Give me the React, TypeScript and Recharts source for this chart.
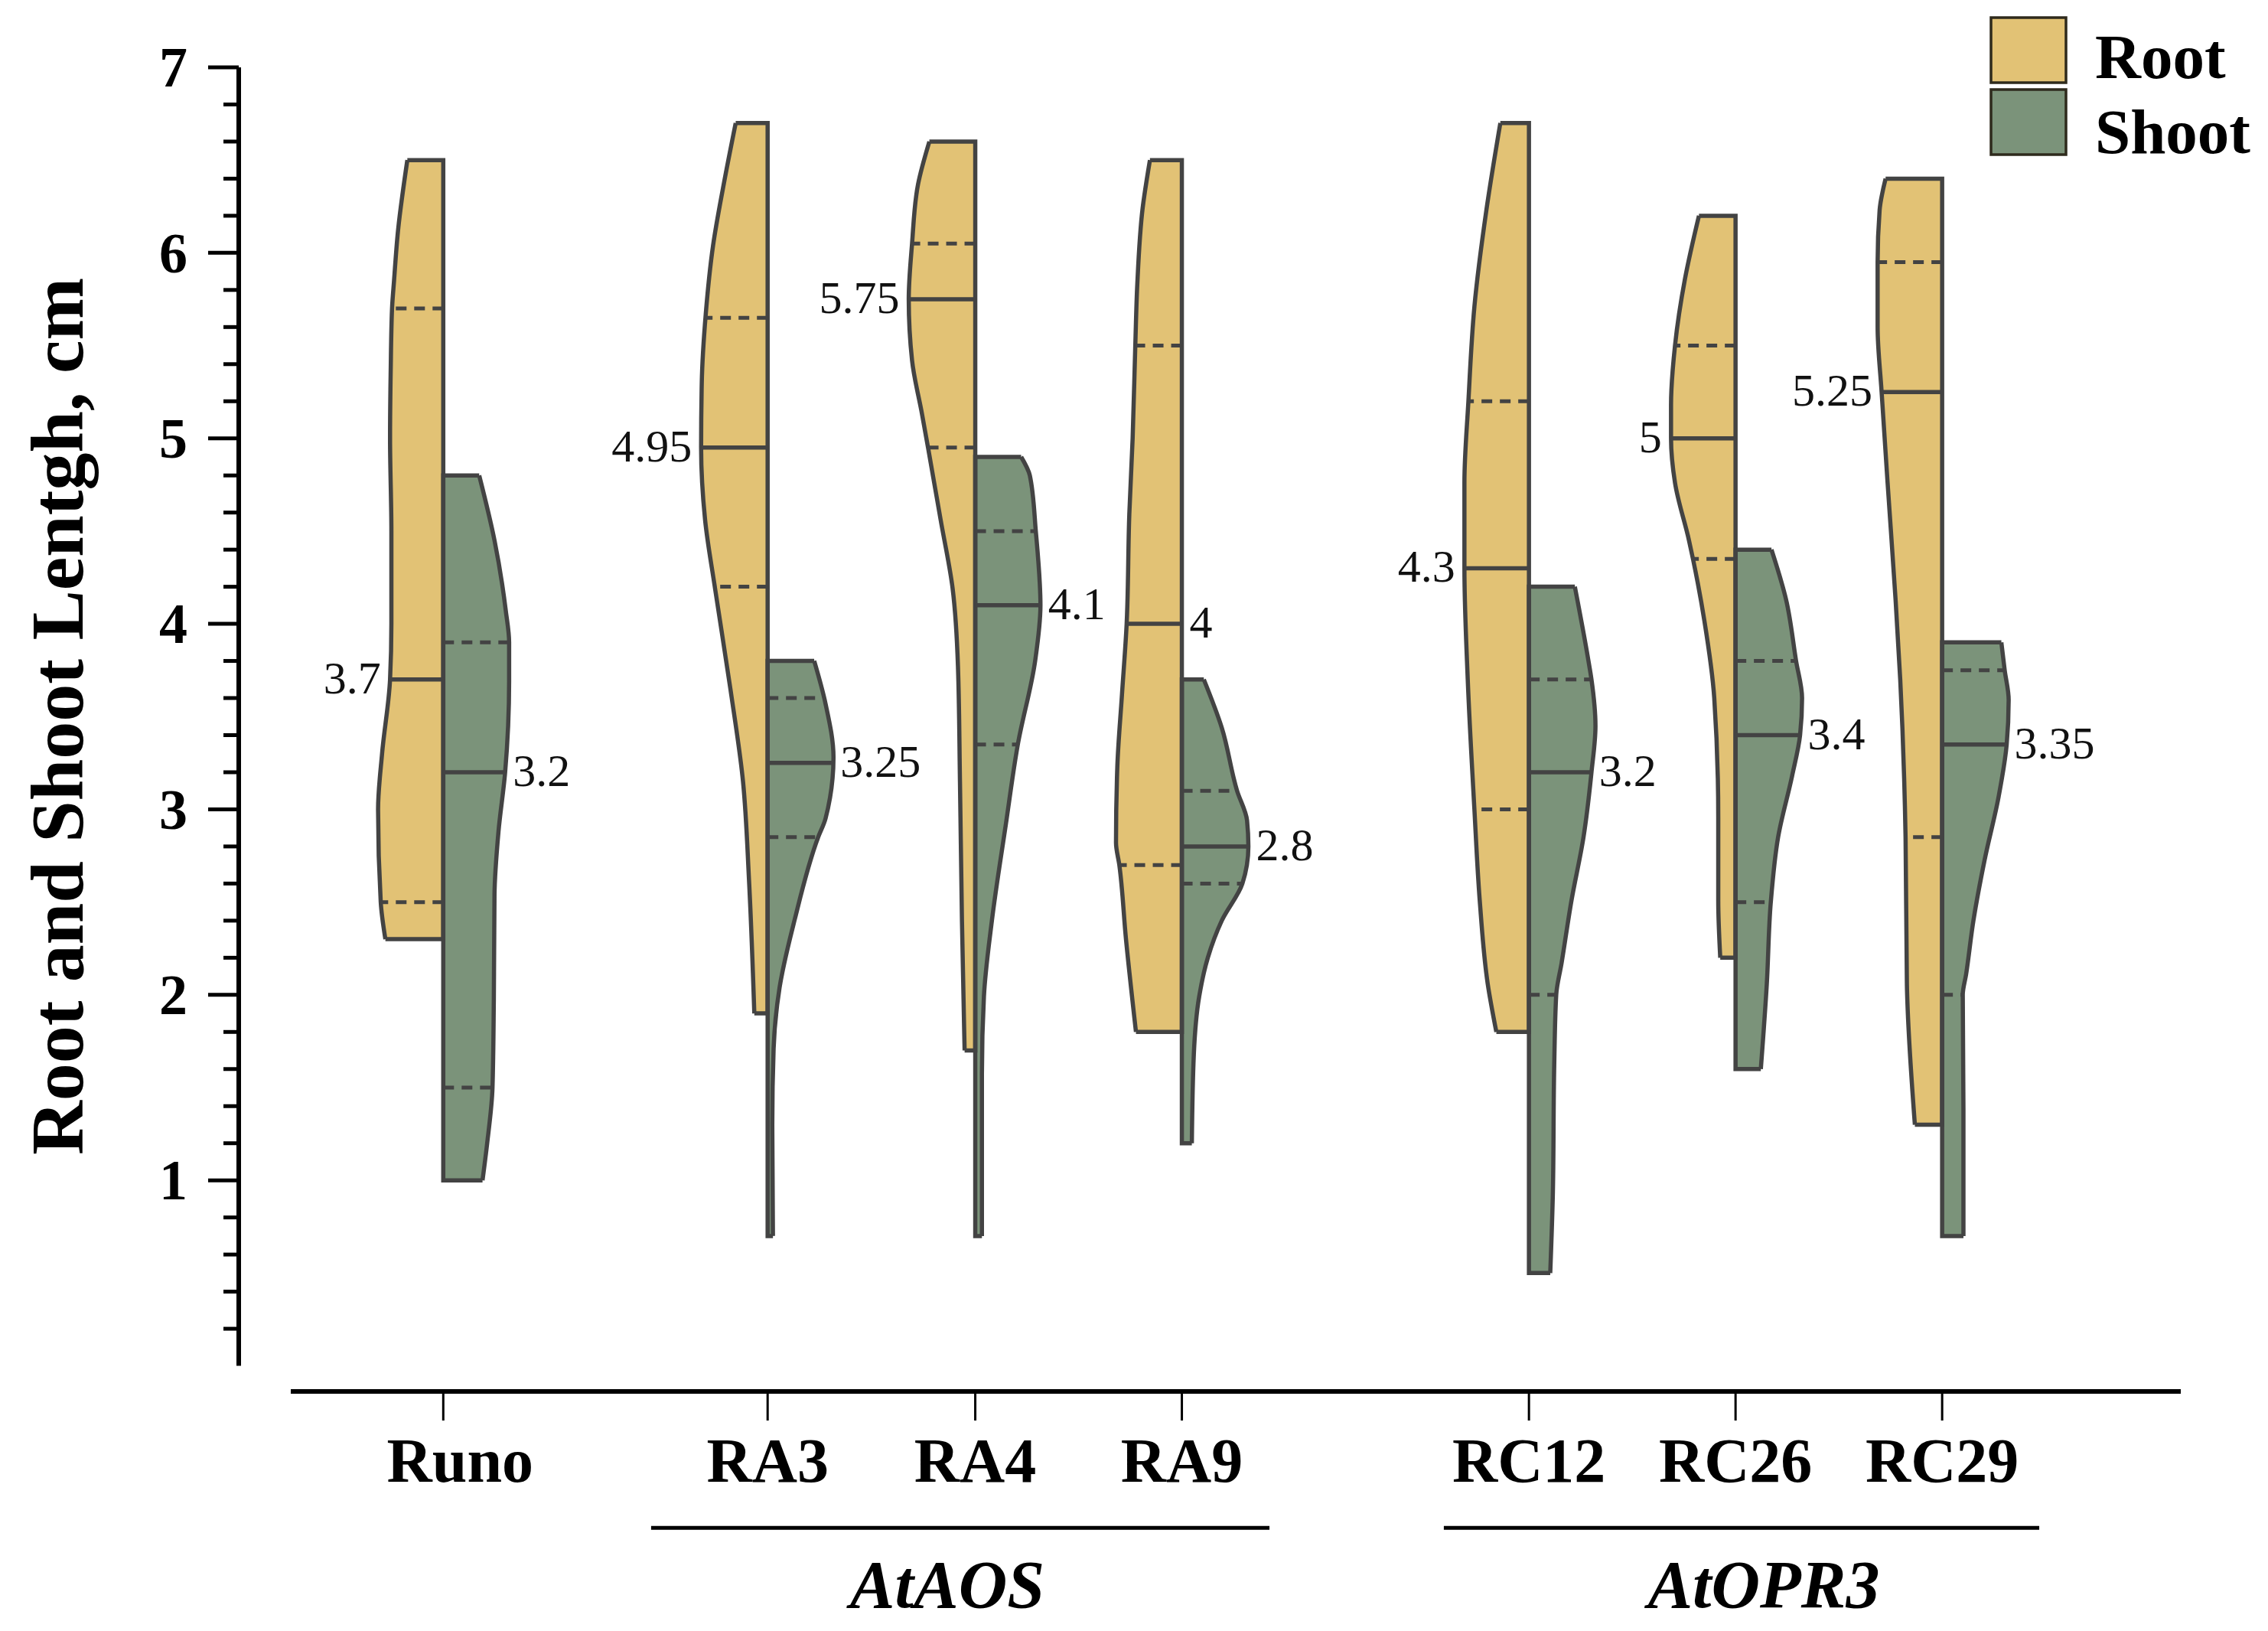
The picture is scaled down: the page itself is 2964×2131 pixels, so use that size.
import React from 'react';
import { ComposedChart, Area, Line, XAxis, YAxis, ReferenceLine, Legend, LabelList } from 'recharts';

// ---------------- data ----------------
const categories = ['Runo', 'RA3', 'RA4', 'RA9', 'RC12', 'RC26', 'RC29'];
const seriesNames = ['Root', 'Shoot'];

const rootMedian = [3.7, 4.95, 5.75, 4, 4.3, 5, 5.25];
const shootMedian = [3.2, 3.25, 4.1, 2.8, 3.2, 3.4, 3.35];
const rootQ1 = [2.5, 4.2, 4.95, 2.7, 3.0, 4.35, 2.85];
const rootQ3 = [5.7, 5.65, 6.05, 5.5, 5.2, 5.5, 5.95];
const shootQ1 = [1.5, 2.85, 3.35, 2.6, 2.0, 2.5, 2.0];
const shootQ3 = [3.9, 3.6, 4.5, 3.1, 3.7, 3.8, 3.75];

// density profiles: [length (cm), relative density], from max length down to min length
const rootDensity: number[][][] = [
  [[6.5, 0.54], [6.12, 0.68], [5.85, 0.74], [5.7, 0.77], [5.37, 0.79], [5.0, 0.8], [4.5, 0.78], [4.0, 0.78], [3.7, 0.8], [3.3, 0.92], [3.0, 0.98], [2.5, 0.94], [2.3, 0.87]],
  [[6.7, 0.48], [6.37, 0.66], [6.04, 0.82], [5.67, 0.93], [5.3, 0.99], [4.95, 1.0], [4.56, 0.94], [4.19, 0.79], [3.65, 0.56], [3.15, 0.37], [2.62, 0.28], [1.9, 0.2]],
  [[6.6, 0.69], [6.37, 0.86], [6.05, 0.95], [5.75, 1.0], [5.42, 0.95], [5.13, 0.8], [4.95, 0.71], [4.56, 0.52], [4.19, 0.34], [3.77, 0.26], [3.15, 0.23], [2.4, 0.2], [1.7, 0.16]],
  [[6.5, 0.48], [6.24, 0.59], [5.83, 0.67], [5.5, 0.7], [5.0, 0.74], [4.59, 0.79], [4.0, 0.83], [3.62, 0.9], [3.23, 0.97], [2.82, 0.99], [2.7, 0.94], [2.3, 0.84], [1.8, 0.69]],
  [[6.7, 0.43], [6.23, 0.64], [5.71, 0.82], [5.2, 0.91], [4.76, 0.97], [4.3, 0.97], [3.7, 0.92], [3.0, 0.82], [2.51, 0.74], [2.06, 0.62], [1.8, 0.49]],
  [[6.2, 0.55], [5.86, 0.76], [5.5, 0.91], [5.18, 0.97], [5.0, 0.97], [4.76, 0.91], [4.45, 0.7], [4.35, 0.64], [4.02, 0.47], [3.6, 0.32], [2.96, 0.26], [2.51, 0.26], [2.2, 0.23]],
  [[6.4, 0.85], [6.23, 0.94], [5.95, 0.97], [5.6, 0.97], [5.25, 0.91], [4.76, 0.82], [4.13, 0.7], [3.7, 0.63], [2.85, 0.55], [2.06, 0.53], [1.3, 0.41]],
];
const shootDensity: number[][][] = [
  [[4.8, 0.54], [4.45, 0.77], [4.07, 0.94], [3.9, 0.99], [3.69, 0.99], [3.2, 0.93], [2.88, 0.83], [2.54, 0.77], [1.97, 0.76], [1.5, 0.74], [1.2, 0.66], [1.0, 0.59]],
  [[3.8, 0.7], [3.57, 0.87], [3.28, 0.99], [2.95, 0.87], [2.85, 0.76], [2.41, 0.41], [2.04, 0.18], [1.71, 0.09], [1.3, 0.07], [0.7, 0.08]],
  [[4.9, 0.69], [4.8, 0.82], [4.5, 0.91], [4.1, 0.98], [3.8, 0.9], [3.35, 0.64], [2.92, 0.46], [2.4, 0.25], [1.99, 0.13], [1.57, 0.1], [0.7, 0.1]],
  [[3.7, 0.33], [3.44, 0.6], [3.1, 0.83], [2.94, 0.98], [2.8, 1.0], [2.6, 0.91], [2.4, 0.6], [2.2, 0.39], [1.99, 0.26], [1.68, 0.18], [1.2, 0.15]],
  [[4.2, 0.69], [3.81, 0.89], [3.7, 0.94], [3.45, 1.0], [3.2, 0.94], [2.85, 0.82], [2.51, 0.64], [2.17, 0.49], [2.0, 0.41], [1.62, 0.38], [0.94, 0.36], [0.5, 0.32]],
  [[4.4, 0.54], [4.13, 0.76], [3.8, 0.91], [3.6, 1.0], [3.4, 0.97], [3.18, 0.85], [2.85, 0.64], [2.5, 0.53], [2.06, 0.47], [1.6, 0.38]],
  [[3.9, 0.89], [3.75, 0.94], [3.59, 1.0], [3.35, 0.97], [3.07, 0.85], [2.73, 0.64], [2.4, 0.47], [2.11, 0.36], [2.0, 0.31], [1.39, 0.32], [0.94, 0.32], [0.7, 0.32]],
];

const groupNames = ['AtAOS', 'AtOPR3'];
const yTickValues = Array.from({ length: 35 }, (_, i) => Math.round((i + 1) * 2) / 10);
const yTitle = 'Root and Shoot Lentgh, cm';

// ---------------- layout / style ----------------
const W = 2964;
const H = 2131;
const PLOT_LEFT = 312;
const MARGIN_TOP = 88;
const MARGIN_RIGHT = 114;
const XAXIS_H = 313;
const X_DOMAIN: [number, number] = [0, 9.4];
const Y_DOMAIN: [number, number] = [-0.138, 7];
const slotX = [0.99, 2.56, 3.565, 4.565, 6.245, 7.245, 8.245];
const HALF_W = 0.322;
const X_AXIS_START = 0.252;
const groupSpan = [[1.996, 4.989], [5.833, 8.715]];
const groupLabelDx = [-17, 29];
const GROUP_LINE_Y = -0.873;
// root median labels drawn on the right of the centre line (where no shoot half is beside them)
const rootLabelOnRight = [false, false, false, true, false, false, false];

const SERIF = "'Liberation Serif', 'Times New Roman', serif";
const COLORS = ['#E2C275', '#7B937A'];
const OUTLINE = '#434343';

const interp = (prof: number[][], v: number) => {
  for (let i = 0; i < prof.length - 1; i++) {
    const [l0, d0] = prof[i];
    const [l1, d1] = prof[i + 1];
    if (v <= l0 && v >= l1) {
      const t = (l0 - v) / (l0 - l1 || 1);
      return d0 + (d1 - d0) * t;
    }
  }
  return prof[prof.length - 1][1];
};

const medianLabel = (text: string, side: number, onRightOfCentre: boolean) => (props: any) => {
  const wantIndex = onRightOfCentre ? 0 : 1;
  if (props.index !== wantIndex) return null;
  const x = props.x ?? props.viewBox?.x;
  const y = props.y ?? props.viewBox?.y;
  if (x == null || y == null) return null;
  const right = side === 1 || onRightOfCentre;
  return (
    <text
      x={right ? x + 10 : x - 12}
      y={y}
      dy="0.3em"
      textAnchor={right ? 'start' : 'end'}
      fontFamily={SERIF}
      fontSize={60}
      fill="#111"
    >
      {text}
    </text>
  );
};

function buildHalf(ci: number, side: number) {
  const c = slotX[ci];
  const prof = side === 0 ? rootDensity[ci] : shootDensity[ci];
  const sgn = side === 0 ? -1 : 1;
  const outer = (d: number) => c + sgn * d * HALF_W;
  const area = prof.map(([len, d]) => ({ len, range: side === 0 ? [outer(d), c] : [c, outer(d)] }));
  const edge = prof.map(([len, d]) => ({ len, x: outer(d) }));
  const top = prof[0];
  const bot = prof[prof.length - 1];
  const closure = [
    { len: top[0], x: outer(top[1]) },
    { len: top[0], x: c },
    { len: bot[0], x: c },
    { len: bot[0], x: outer(bot[1]) },
  ];
  const seg = (v: number) => [
    { len: v, x: c },
    { len: v, x: outer(interp(prof, v)) },
  ];
  const med = side === 0 ? rootMedian[ci] : shootMedian[ci];
  const q1 = side === 0 ? rootQ1[ci] : shootQ1[ci];
  const q3 = side === 0 ? rootQ3[ci] : shootQ3[ci];
  const key = `${side}-${ci}`;
  const common = { isAnimationActive: false, dot: false, activeDot: false, legendType: 'none' as const };
  const onRight = side === 0 && rootLabelOnRight[ci];
  return [
    <Area
      key={`a-${key}`}
      data={area}
      dataKey="range"
      type="monotone"
      fill={COLORS[side]}
      fillOpacity={1}
      stroke="none"
      {...common}
    />,
    <Line key={`e-${key}`} data={edge} dataKey="x" type="monotone" stroke={OUTLINE} strokeWidth={5.5} {...common} />,
    <Line key={`c-${key}`} data={closure} dataKey="x" type="linear" stroke={OUTLINE} strokeWidth={5.5} strokeLinejoin="miter" {...common} />,
    <Line key={`q1-${key}`} data={seg(q1)} dataKey="x" type="linear" stroke={OUTLINE} strokeWidth={5} strokeDasharray="14 10" {...common} />,
    <Line key={`q3-${key}`} data={seg(q3)} dataKey="x" type="linear" stroke={OUTLINE} strokeWidth={5} strokeDasharray="14 10" {...common} />,
    <Line key={`m-${key}`} data={seg(med)} dataKey="x" type="linear" stroke={OUTLINE} strokeWidth={5.5} {...common}>
      <LabelList dataKey="x" content={medianLabel(String(med), side, onRight)} />
    </Line>,
  ];
}

const YTick = (props: any) => {
  const { x, y, payload } = props;
  const v = payload.value;
  const major = Math.abs(v - Math.round(v)) < 1e-6;
  return (
    <g>
      <line x1={x - (major ? 40 : 20)} x2={x} y1={y} y2={y} stroke="#000" strokeWidth={5} />
      {major && (
        <text x={x - 67} y={y} dy="0.34em" textAnchor="end" fontFamily={SERIF} fontWeight="bold" fontSize={74} fill="#000">
          {Math.round(v)}
        </text>
      )}
    </g>
  );
};

const XTick = (props: any) => {
  const { x, y, payload } = props;
  const idx = slotX.findIndex((s) => Math.abs(s - payload.value) < 1e-6);
  const name = categories[idx] ?? '';
  return (
    <text x={x + (idx === 0 ? 22 : 0)} y={y} dy={80} textAnchor="middle" fontFamily={SERIF} fontWeight="bold" fontSize={82} fill="#000">
      {name}
    </text>
  );
};

const LegendBox = () => (
  <svg width={374} height={210} style={{ display: 'block' }}>
    {seriesNames.map((n, i) => (
      <g key={n}>
        <rect x={12} y={13 + i * 94} width={98} height={85} fill={COLORS[i]} stroke="#2e2a1c" strokeWidth={3.5} />
        <text x={148} y={92 + i * 98} fontFamily={SERIF} fontWeight="bold" fontSize={83} fill="#000">
          {n}
        </text>
      </g>
    ))}
  </svg>
);

const groupLabel = (text: string, dx: number) => (props: any) => {
  const vb = props.viewBox || {};
  const cx = (vb.x ?? 0) + (vb.width ?? 0) / 2 + dx;
  const y = (vb.y ?? 0) + 104;
  return (
    <text x={cx} y={y} textAnchor="middle" fontFamily={SERIF} fontWeight="bold" fontStyle="italic" fontSize={88} fill="#000">
      {text}
    </text>
  );
};

const yTitleLabel = (props: any) => {
  const vb = props.viewBox || {};
  const cx = (vb.x ?? 0) + 108;
  const cy = (vb.y ?? 0) + (vb.height ?? 0) / 2 - 17;
  return (
    <text
      x={cx}
      y={cy}
      transform={`rotate(-90 ${cx} ${cy})`}
      textAnchor="middle"
      fontFamily={SERIF}
      fontWeight="bold"
      fontSize={98}
      fill="#000"
    >
      {yTitle}
    </text>
  );
};

export default function App() {
  const halves: React.ReactNode[] = [];
  categories.forEach((_, ci) => {
    halves.push(...buildHalf(ci, 0));
    halves.push(...buildHalf(ci, 1));
  });
  return (
    <div style={{ position: 'absolute', left: 0, top: 0, width: W, height: H, background: '#fff' }}>
      <ComposedChart
        layout="vertical"
        width={W}
        height={H}
        margin={{ top: MARGIN_TOP, right: MARGIN_RIGHT, bottom: 0, left: 0 }}
      >
        <XAxis
          type="number"
          domain={X_DOMAIN}
          allowDataOverflow
          ticks={slotX}
          interval={0}
          height={XAXIS_H}
          axisLine={false}
          tickLine={{ stroke: '#000', strokeWidth: 3 }}
          tickSize={38}
          tickMargin={0}
          tick={<XTick />}
        />
        <YAxis
          type="number"
          dataKey="len"
          domain={Y_DOMAIN}
          reversed
          allowDataOverflow
          ticks={yTickValues}
          interval={0}
          width={PLOT_LEFT}
          axisLine={false}
          tickLine={false}
          tickSize={0}
          tickMargin={0}
          tick={<YTick />}
          label={yTitleLabel}
        />
        <Legend
          layout="horizontal"
          verticalAlign="middle"
          align="center"
          wrapperStyle={{ left: 2590, top: 10, width: 374, height: 210 }}
          content={<LegendBox />}
        />
        <ReferenceLine
          segment={[{ x: X_DOMAIN[0], y: 0 }, { x: X_DOMAIN[0], y: 7 }]}
          stroke="#000"
          strokeWidth={6}
          ifOverflow="visible"
        />
        <ReferenceLine
          segment={[{ x: X_AXIS_START, y: Y_DOMAIN[0] }, { x: X_DOMAIN[1], y: Y_DOMAIN[0] }]}
          stroke="#000"
          strokeWidth={6}
          ifOverflow="visible"
        />
        {groupNames.map((g, gi) => (
          <ReferenceLine
            key={g}
            segment={[{ x: groupSpan[gi][0], y: GROUP_LINE_Y }, { x: groupSpan[gi][1], y: GROUP_LINE_Y }]}
            stroke="#000"
            strokeWidth={5}
            ifOverflow="visible"
            label={groupLabel(g, groupLabelDx[gi])}
          />
        ))}
        {halves}
      </ComposedChart>
    </div>
  );
}
